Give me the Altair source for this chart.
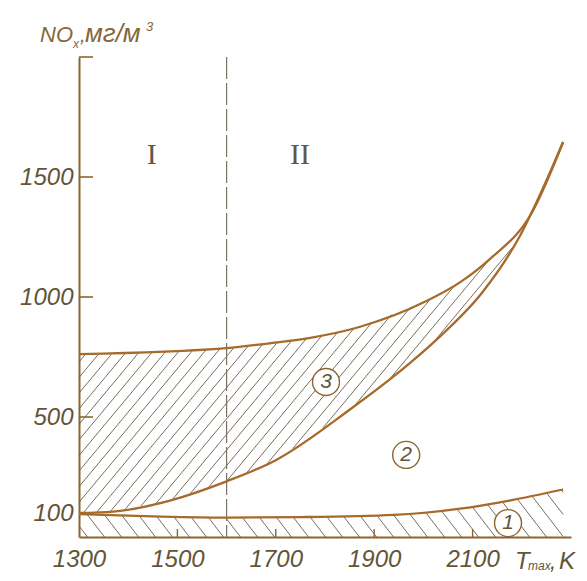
import altair as alt
import numpy as np
import pandas as pd

# ---- data ----
T_upper3 = [1300, 1600, 1690, 1770, 1870, 2005, 2075, 2135, 2220, 2284]
NOx_upper3 = [762, 787, 808, 830, 875, 982, 1062, 1158, 1350, 1646]

T_lower3 = [1300, 1370, 1485, 1600, 1700, 1850, 1970, 2035, 2120, 2195, 2240, 2284]
NOx_lower3 = [100, 106, 152, 232, 320, 530, 720, 838, 1020, 1250, 1440, 1646]

T_curve1 = [1300, 1450, 1600, 1750, 1940, 2075, 2175, 2284]
NOx_curve1 = [95, 86, 81, 83, 92, 118, 152, 198]

x_tick_values = [1300, 1500, 1700, 1900, 2100]
y_tick_values = [100, 500, 1000, 1500]
y_inner_ticks = [500, 1000, 1500, 2000]
x_inner_ticks = [1500, 1700, 1900, 2100]
divider_T = [1600]

zone_labels = ["I", "II"]
zone_T = [1448, 1749]
zone_NOx = [1592, 1592]

circle_labels = ["3", "2", "1"]
circle_T = [1802, 1965, 2172]
circle_NOx = [646, 342, 58]

# ---- layout ----
W, H = 492, 480
XD = [1300, 2300]
YD = [0, 2000]
sx = W / (XD[1] - XD[0])
sy = H / (YD[1] - YD[0])

CURVE = "#a66a2b"
HATCH = "#6a5c49"
AXIS = "#8c6530"
TXT = "#625538"
TITLE = "#86683a"


def hatch(x_lo, y_lo, x_hi, y_hi, slope, spacing):
    xs = np.linspace(max(min(x_lo), min(x_hi)), min(max(x_lo), max(x_hi)), 5000)
    lo = np.interp(xs, x_lo, y_lo) * sy
    hi = np.interp(xs, x_hi, y_hi) * sy
    p = (xs - XD[0]) * sx
    cands = np.concatenate([p - lo / slope, p - hi / slope])
    rows = []
    for c in np.arange(cands.min() + spacing / 2, cands.max(), spacing):
        u = slope * (p - c)
        inside = (u >= lo) & (u <= hi)
        if not inside.any():
            continue
        d = np.diff(np.concatenate([[0], inside.astype(int), [0]]))
        starts = np.where(d == 1)[0]
        ends = np.where(d == -1)[0] - 1
        for a, b in zip(starts, ends):
            if b - a < 2:
                continue
            rows.append({"x": xs[a], "y": u[a] / sy, "x2": xs[b], "y2": u[b] / sy})
    return pd.DataFrame(rows)


hatch3 = hatch(T_lower3, NOx_lower3, T_upper3, NOx_upper3, 1.2, 13)
hatch1 = hatch([T_curve1[0], T_curve1[-1]], [0, 0], T_curve1, NOx_curve1, -1.3, 17)

xscale = alt.Scale(domain=XD, nice=False, zero=False)
yscale = alt.Scale(domain=YD, nice=False, zero=False)

curves = pd.concat([
    pd.DataFrame({"T": T_upper3, "NOx": NOx_upper3, "c": "upper3"}),
    pd.DataFrame({"T": T_lower3, "NOx": NOx_lower3, "c": "lower3"}),
    pd.DataFrame({"T": T_curve1, "NOx": NOx_curve1, "c": "curve1"}),
])

x_axis = alt.Axis(values=x_tick_values, format="d", title="", grid=False,
                  ticks=False, tickSize=0, labelFont="Liberation Sans",
                  labelFontStyle="italic", labelFontSize=24, labelColor=TXT,
                  labelPadding=10, labelFlush=False, labelOverlap=False,
                  domainColor=AXIS, domainWidth=2)
y_axis = alt.Axis(values=y_tick_values, format="d", title="", grid=False,
                  ticks=False, tickSize=0, labelFont="Liberation Sans",
                  labelFontStyle="italic", labelFontSize=24, labelColor=TXT,
                  labelPadding=6, labelFlush=False, labelOverlap=False,
                  domainColor=AXIS, domainWidth=2)


def X(f):
    return alt.X(f, scale=xscale, axis=x_axis)


def Y(f):
    return alt.Y(f, scale=yscale, axis=y_axis)


h3 = alt.Chart(hatch3).mark_rule(color=HATCH, strokeWidth=0.9).encode(
    x=X("x:Q"), y=Y("y:Q"), x2="x2:Q", y2="y2:Q")
h1 = alt.Chart(hatch1).mark_rule(color=HATCH, strokeWidth=0.9).encode(
    x=X("x:Q"), y=Y("y:Q"), x2="x2:Q", y2="y2:Q")

divider = alt.Chart(pd.DataFrame({"T": divider_T})).mark_rule(
    color="#7a7264", strokeWidth=1.2, strokeDash=[22, 4]).encode(
    x=X("T:Q"), y=alt.value(0), y2=alt.value(H))

lines = alt.Chart(curves).mark_line(color=CURVE, strokeWidth=2.3, interpolate="monotone").encode(
    x=X("T:Q"), y=Y("NOx:Q"), detail="c:N")

yt = alt.Chart(pd.DataFrame({"v": y_inner_ticks})).mark_rule(color=AXIS, strokeWidth=1.6).encode(
    y=Y("v:Q"), x=alt.value(0), x2=alt.value(14))
xt = alt.Chart(pd.DataFrame({"v": x_inner_ticks})).mark_rule(color=AXIS, strokeWidth=1.4).encode(
    x=X("v:Q"), y=alt.value(H), y2=alt.value(H - 8))

cdf = pd.DataFrame({"T": circle_T, "NOx": circle_NOx, "lab": circle_labels})
circles = alt.Chart(cdf).mark_point(shape="circle", filled=True, fill="white", stroke=AXIS,
                                    strokeWidth=1.4, size=729, opacity=1).encode(
    x=X("T:Q"), y=Y("NOx:Q"))
ctext = alt.Chart(cdf).mark_text(font="Liberation Sans", fontStyle="italic", fontSize=21,
                                 color=TXT, align="center", baseline="middle").encode(
    x=X("T:Q"), y=Y("NOx:Q"), text="lab:N")

zdf = pd.DataFrame({"T": zone_T, "NOx": zone_NOx, "lab": zone_labels})
ztext = alt.Chart(zdf).mark_text(font="Liberation Serif", fontSize=30, color="#5f5848",
                                 align="center", baseline="middle").encode(
    x=X("T:Q"), y=Y("NOx:Q"), text="lab:N")


def label(txt, x, y, size, color=TITLE):
    return alt.Chart(pd.DataFrame({"t": [txt]})).mark_text(
        font="Liberation Sans", fontStyle="italic", fontSize=size, color=color,
        align="left", baseline="alphabetic").encode(
        x=alt.value(x), y=alt.value(y), text="t:N")


title_parts = [
    label("NO", -39, -15, 22),
    label("x", -6, -9, 12),
    label(",", 1, -15, 20),
    label("мг/м", 6, -15, 26),
    label("3", 67, -26, 13),
    label("T", 436, 512, 24, TXT),
    label("max", 449, 513, 12, TXT),
    label(",", 471, 512, 22, TXT),
    label("K", 480, 512, 24, TXT),
]

chart = alt.layer(h3, h1, divider, lines, yt, xt, circles, ctext, ztext, *title_parts).properties(
    width=W, height=H,
    autosize=alt.AutoSizeParams(type="none"),
    padding={"left": 71, "top": 49, "right": 8, "bottom": 36},
    background="white",
).configure_view(stroke=None)

chart.save("out.html", embed_options={"renderer": "svg", "actions": False})
